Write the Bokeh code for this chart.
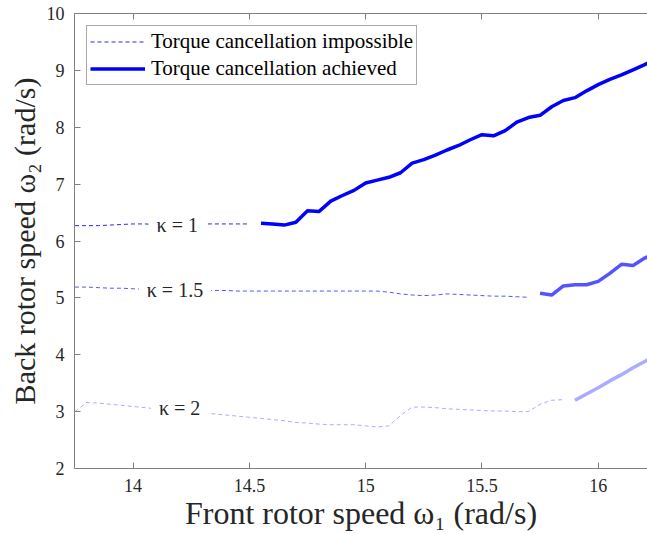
from bokeh.plotting import figure
from bokeh.models import (Range1d, LinearAxis, FixedTicker, NumeralTickFormatter,
                          Label, Legend, LegendItem, CustomLabelingPolicy)
from bokeh.embed import file_html
from bokeh.resources import INLINE

# kappa = 1
k1_imp_x = [13.75, 13.80, 13.85, 13.90, 13.95, 14.00, 14.05, 14.10, 14.15, 14.20,
            14.25, 14.30, 14.35, 14.40, 14.45, 14.50]
k1_imp_y = [6.27, 6.27, 6.27, 6.28, 6.29, 6.30, 6.30, 6.29, 6.29, 6.29,
            6.29, 6.30, 6.30, 6.30, 6.30, 6.30]
k1_ach_x = [14.55, 14.60, 14.65, 14.70, 14.75, 14.80, 14.85, 14.90, 14.95, 15.00,
            15.05, 15.10, 15.15, 15.20, 15.25, 15.30, 15.35, 15.40, 15.45, 15.50,
            15.55, 15.60, 15.65, 15.70, 15.75, 15.80, 15.85, 15.90, 15.95, 16.00,
            16.05, 16.10, 16.15, 16.20, 16.25]
k1_ach_y = [6.31, 6.30, 6.28, 6.33, 6.53, 6.52, 6.70, 6.80, 6.89, 7.02,
            7.07, 7.12, 7.20, 7.37, 7.43, 7.51, 7.60, 7.68, 7.78, 7.87,
            7.85, 7.94, 8.09, 8.17, 8.21, 8.36, 8.47, 8.52, 8.64, 8.75,
            8.84, 8.92, 9.01, 9.10, 9.20]

# kappa = 1.5
k15_imp_x = [13.75, 13.80, 13.85, 13.90, 13.95, 14.00, 14.05, 14.10, 14.15, 14.20,
             14.25, 14.30, 14.35, 14.40, 14.45, 14.50, 14.55, 14.60, 14.65, 14.70,
             14.75, 14.80, 14.85, 14.90, 14.95, 15.00, 15.05, 15.10, 15.15, 15.20,
             15.25, 15.30, 15.35, 15.40, 15.45, 15.50, 15.55, 15.60, 15.65, 15.70]
k15_imp_y = [5.19, 5.19, 5.18, 5.17, 5.17, 5.16, 5.15, 5.14, 5.14, 5.13,
             5.13, 5.13, 5.13, 5.13, 5.12, 5.12, 5.12, 5.12, 5.12, 5.12,
             5.12, 5.12, 5.12, 5.12, 5.12, 5.12, 5.12, 5.10, 5.07, 5.05,
             5.04, 5.05, 5.07, 5.06, 5.05, 5.04, 5.03, 5.03, 5.02, 5.01]
k15_ach_x = [15.75, 15.80, 15.85, 15.90, 15.95, 16.00, 16.05, 16.10, 16.15, 16.20, 16.25]
k15_ach_y = [5.08, 5.05, 5.21, 5.23, 5.23, 5.29, 5.43, 5.59, 5.57, 5.70, 5.80]

# kappa = 2
k2_imp_x = [13.75, 13.80, 13.85, 13.90, 13.95, 14.00, 14.05, 14.10, 14.15, 14.20,
            14.25, 14.30, 14.35, 14.40, 14.45, 14.50, 14.55, 14.60, 14.65, 14.70,
            14.75, 14.80, 14.85, 14.90, 14.95, 15.00, 15.05, 15.10, 15.15, 15.20,
            15.25, 15.30, 15.35, 15.40, 15.45, 15.50, 15.55, 15.60, 15.65, 15.70,
            15.75, 15.80, 15.85]
k2_imp_y = [3.00, 3.16, 3.15, 3.13, 3.11, 3.09, 3.07, 3.05, 3.03, 3.01,
            2.99, 2.97, 2.96, 2.94, 2.92, 2.90, 2.88, 2.86, 2.84, 2.81,
            2.80, 2.78, 2.77, 2.77, 2.77, 2.75, 2.73, 2.75, 2.93, 3.08,
            3.08, 3.07, 3.05, 3.04, 3.03, 3.02, 3.01, 3.01, 3.00, 3.00,
            3.13, 3.20, 3.21]
k2_ach_x = [15.90, 15.95, 16.00, 16.05, 16.10, 16.15, 16.20, 16.25]
k2_ach_y = [3.20, 3.31, 3.42, 3.54, 3.65, 3.77, 3.88, 3.99]

kappa_labels = ["κ = 1", "κ = 1.5", "κ = 2"]
label_x = [14.19, 14.18, 14.20]
label_y = [6.29, 5.14, 3.07]

x_ticks = [14, 14.5, 15, 15.5, 16]
y_ticks = [2, 3, 4, 5, 6, 7, 8, 9, 10]

SERIF = "Liberation Serif"
AX_COL = "#808080"
TXT_COL = "#262626"

p = figure(width=647, height=534, output_backend="svg", toolbar_location=None,
           x_range=Range1d(13.748, 16.212), y_range=Range1d(2, 10),
           min_border_left=74, min_border_top=13, min_border_bottom=66,
           min_border_right=0)
p.outline_line_color = None
p.xgrid.visible = False
p.ygrid.visible = False
p.background_fill_color = "white"
p.border_fill_color = "white"

blue = "#0000ff"
alphas = [1.0, 0.67, 0.33]
dash = "4 3"

r1d = p.line(k1_imp_x, k1_imp_y, line_color=blue, line_alpha=0.85, line_width=1.0, line_dash=dash)
r1s = p.line(k1_ach_x, k1_ach_y, line_color=blue, line_alpha=alphas[0], line_width=3.5)
p.line(k15_imp_x, k15_imp_y, line_color=blue, line_alpha=alphas[1], line_width=1.0, line_dash=dash)
p.line(k15_ach_x, k15_ach_y, line_color=blue, line_alpha=alphas[1], line_width=3.5)
p.line(k2_imp_x, k2_imp_y, line_color=blue, line_alpha=alphas[2], line_width=1.0, line_dash=dash)
p.line(k2_ach_x, k2_ach_y, line_color=blue, line_alpha=alphas[2], line_width=3.5)

for t, lx, ly in zip(kappa_labels, label_x, label_y):
    p.add_layout(Label(x=lx, y=ly, text=t, text_font=SERIF, text_font_size="20px",
                       text_color=TXT_COL, text_align="center", text_baseline="middle",
                       background_fill_color="white", padding=8))

# axes styling
for ax in (p.xaxis[0], p.yaxis[0]):
    ax.axis_line_color = AX_COL
    ax.major_tick_line_color = AX_COL
    ax.major_tick_in = 6
    ax.major_tick_out = 0
    ax.minor_tick_line_color = None
    ax.major_label_text_font = SERIF
    ax.major_label_text_font_size = "18px"
    ax.major_label_text_color = TXT_COL
    ax.axis_label_text_font = SERIF
    ax.axis_label_text_font_style = "normal"
    ax.axis_label_text_color = TXT_COL

p.xaxis[0].axis_label_text_font_size = "32px"
p.yaxis[0].axis_label_text_font_size = "30px"

p.xaxis[0].ticker = FixedTicker(ticks=x_ticks)
p.xaxis[0].formatter = NumeralTickFormatter(format="0.[0]")
p.xaxis[0].major_label_standoff = 10
p.xaxis[0].axis_label = "Front rotor speed ω₁ (rad/s)"
p.xaxis[0].axis_label_standoff = 0

p.yaxis[0].ticker = FixedTicker(ticks=y_ticks)
p.yaxis[0].major_label_standoff = 10
p.yaxis[0].axis_label = "Back rotor speed ω₂ (rad/s)"
p.yaxis[0].axis_label_standoff = 3

top = LinearAxis(ticker=FixedTicker(ticks=x_ticks), axis_line_color=AX_COL,
                 major_tick_line_color=AX_COL, major_tick_in=6, major_tick_out=0,
                 minor_tick_line_color=None, major_label_standoff=0,
                 major_label_policy=CustomLabelingPolicy(
                     code="for (const i of indices) indices.unset(i)\nreturn indices"))
p.add_layout(top, "above")

legend = Legend(items=[LegendItem(label="Torque cancellation impossible", renderers=[r1d]),
                       LegendItem(label="Torque cancellation achieved", renderers=[r1s])],
                location="top_left", margin=12, padding=3, spacing=2,
                glyph_width=55, glyph_height=21, label_height=21, label_standoff=6,
                label_text_font=SERIF, label_text_font_size="21px", label_text_color="#000000",
                border_line_color="#555555", border_line_width=1,
                background_fill_color="white", background_fill_alpha=1.0)
p.add_layout(legend)

open("out.html", "w").write(file_html(p, INLINE))
